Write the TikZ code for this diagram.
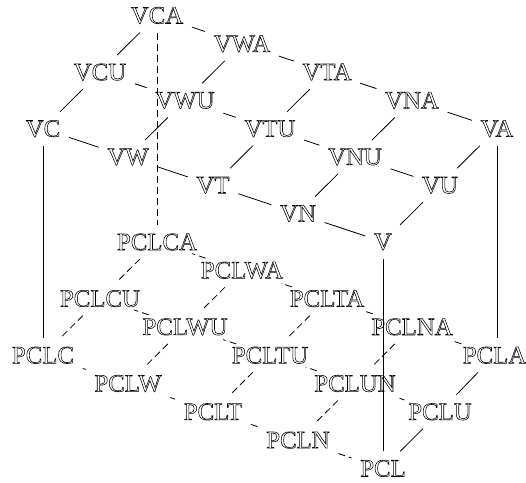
\documentclass[tikz,border=0pt]{standalone}
\usepackage{fontspec}
\setmainfont{Liberation Serif}
\newcommand{\outl}[1]{\special{pdf:literal direct 1 Tr 0.55 w}#1\special{pdf:literal direct 0 Tr}}
\tikzset{
  lab/.style={inner sep=8.5pt, font=\fontsize{24.8}{28}\selectfont},
  edge/.style={line width=0.8pt, black},
  hid/.style={edge, dash pattern=on 7pt off 4pt}
}
\begin{document}
\begin{tikzpicture}[x=1pt,y=-1pt]
\useasboundingbox (0,0) rectangle (526,482);
% upper
\node[lab] (VCA) at (157,15.5) {\outl{VCA}};
\node[lab] (VWA) at (242,43.8) {\outl{VWA}};
\node[lab] (VTA) at (327,72.1) {\outl{VTA}};
\node[lab] (VNA) at (412,100.4) {\outl{VNA}};
\node[lab] (VA) at (497,128.7) {\outl{VA}};
\node[lab] (VCU) at (100,72.1) {\outl{VCU}};
\node[lab] (VWU) at (185,100.4) {\outl{VWU}};
\node[lab] (VTU) at (270,128.7) {\outl{VTU}};
\node[lab] (VNU) at (355,157.0) {\outl{VNU}};
\node[lab] (VU) at (440,185.3) {\outl{VU}};
\node[lab] (VC) at (43,128.7) {\outl{VC}};
\node[lab] (VW) at (128,157.0) {\outl{VW}};
\node[lab] (VT) at (213,185.3) {\outl{VT}};
\node[lab] (VN) at (298,213.6) {\outl{VN}};
\node[lab] (V) at (383,241.9) {\outl{V}};
% lower
\node[lab] (PCLCA) at (157,242) {\outl{PCLCA}};
\node[lab] (PCLWA) at (242,270.3) {\outl{PCLWA}};
\node[lab] (PCLTA) at (327,298.6) {\outl{PCLTA}};
\node[lab] (PCLNA) at (412,326.9) {\outl{PCLNA}};
\node[lab] (PCLA) at (494.5,355.2) {\outl{PCLA}};
\node[lab] (PCLCU) at (100,298.6) {\outl{PCLCU}};
\node[lab] (PCLWU) at (185,326.9) {\outl{PCLWU}};
\node[lab] (PCLTU) at (270,355.2) {\outl{PCLTU}};
\node[lab] (PCLUN) at (355,383.5) {\outl{PCLUN}};
\node[lab] (PCLU) at (440,411.8) {\outl{PCLU}};
\node[lab] (PCLC) at (43,355.2) {\outl{PCLC}};
\node[lab] (PCLW) at (128,383.5) {\outl{PCLW}};
\node[lab] (PCLT) at (213,411.8) {\outl{PCLT}};
\node[lab] (PCLN) at (298,440.1) {\outl{PCLN}};
\node[lab] (PCL) at (383,468.4) {\outl{PCL}};
% upper edges
\draw[edge] (VCA) -- (VWA); \draw[edge] (VWA) -- (VTA); \draw[edge] (VTA) -- (VNA); \draw[edge] (VNA) -- (VA);
\draw[edge] (VCU) -- (VWU); \draw[edge] (VWU) -- (VTU); \draw[edge] (VTU) -- (VNU); \draw[edge] (VNU) -- (VU);
\draw[edge] (VC) -- (VW); \draw[edge] (VW) -- (VT); \draw[edge] (VT) -- (VN); \draw[edge] (VN) -- (V);
\draw[edge] (VCA) -- (VCU); \draw[edge] (VCU) -- (VC);
\draw[edge] (VWA) -- (VWU); \draw[edge] (VWU) -- (VW);
\draw[edge] (VTA) -- (VTU); \draw[edge] (VTU) -- (VT);
\draw[edge] (VNA) -- (VNU); \draw[edge] (VNU) -- (VN);
\draw[edge] (VA) -- (VU); \draw[edge] (VU) -- (V);
% lower edges
\draw[hid] (PCLCA) -- (PCLWA); \draw[hid] (PCLWA) -- (PCLTA); \draw[hid] (PCLTA) -- (PCLNA); \draw[hid] (PCLNA) -- (PCLA);
\draw[hid] (PCLCU) -- (PCLWU); \draw[hid] (PCLWU) -- (PCLTU); \draw[hid] (PCLTU) -- (PCLUN); \draw[hid] (PCLUN) -- (PCLU);
\draw[hid] (PCLC) -- (PCLW); \draw[hid] (PCLW) -- (PCLT); \draw[hid] (PCLT) -- (PCLN); \draw[hid] (PCLN) -- (PCL);
\draw[hid] (PCLCA) -- (PCLCU); \draw[hid] (PCLCU) -- (PCLC);
\draw[hid] (PCLWA) -- (PCLWU); \draw[hid] (PCLWU) -- (PCLW);
\draw[hid] (PCLTA) -- (PCLTU); \draw[hid] (PCLTU) -- (PCLT);
\draw[hid] (PCLNA) -- (PCLUN); \draw[hid] (PCLUN) -- (PCLN);
\draw[edge] (PCLA) -- (PCLU); \draw[edge] (PCLU) -- (PCL);
% verticals
\draw[hid] (VCA) -- (PCLCA);
\draw[edge] (VC) -- (PCLC);
\draw[edge] (VA.south) -- (VA.south |- PCLA.north);
\draw[edge] (V) -- (PCL);
\end{tikzpicture}
\end{document}
